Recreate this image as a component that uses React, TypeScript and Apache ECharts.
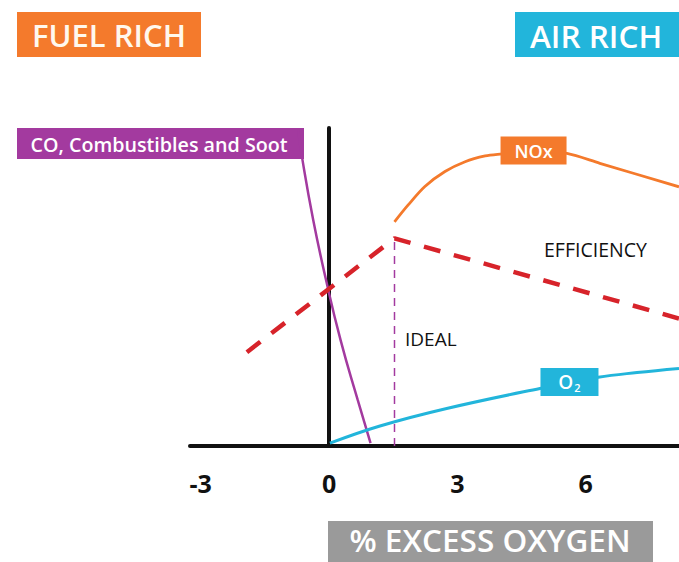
import React, { useEffect, useRef } from "react";
import * as echarts from "echarts";

// % excess oxygen ticks
const xTicks = [-3, 0, 3, 6];

// Curves: [excess O2 %, relative level]
const coSoot = [
  [-0.72, 99.4], [-0.62, 89.9], [-0.37, 71.1], [-0.07, 52.2],
  [0.27, 33.3], [0.67, 14.5], [0.97, 0.9],
];
const nox = [
  [1.53, 70.5], [1.85, 75.8], [2.24, 81.6], [2.71, 86.3], [3.18, 89.4],
  [3.65, 91.2], [4.0, 91.8], [4.79, 92.8], [5.56, 92.0], [6.33, 88.9], [8.18, 81.5],
];
const efficiency = [
  [-1.92, 29.5], [1.53, 65.3], [8.18, 40.1],
];
const oxygen = [
  [0.02, 0.9], [1.19, 6.3], [2.75, 11.8], [4.93, 18.1], [6.29, 21.6], [7.2, 23.1], [8.18, 24.4],
];
const ideal = [
  [1.53, 0], [1.53, 65.3],
];
const noxLabelAt = [4.78, 92.9];
const o2LabelAt = [5.62, 20.1];

const FONT = "'Open Sans', 'Noto Sans', sans-serif";
const ORANGE = "#F47A2C";
const BLUE = "#22B5DB";
const PURPLE = "#A33A9F";
const RED = "#D7232A";
const GRAY = "#9A9A9A";

export default function App() {
  const ref = useRef<HTMLDivElement>(null);
  useEffect(() => {
    if (!ref.current) return;
    const chart = echarts.init(ref.current, null, { renderer: "svg" });
    chart.setOption({
      animation: false,
      backgroundColor: "#ffffff",
      grid: { left: 190, right: 0, top: 128, bottom: 116 },
      xAxis: {
        type: "value",
        min: -3.25,
        max: 8.18,
        axisLine: { show: true, onZero: true, lineStyle: { color: "#111", width: 4 } },
        axisTick: { show: false },
        splitLine: { show: false },
        axisLabel: {
          customValues: xTicks,
          color: "#111",
          fontSize: 25,
          fontWeight: "bold",
          fontFamily: FONT,
          margin: 24,
        },
      },
      yAxis: {
        type: "value",
        min: 0,
        max: 100,
        axisLine: { show: true, onZero: true, lineStyle: { color: "#111", width: 4 } },
        axisTick: { show: false },
        splitLine: { show: false },
        axisLabel: { show: false },
      },
      series: [
        {
          type: "line",
          name: "CO",
          data: coSoot,
          smooth: 0.5,
          symbol: "none",
          lineStyle: { color: PURPLE, width: 2.5 },
          z: 3,
        },
        {
          type: "line",
          name: "Ideal",
          data: ideal,
          symbol: "none",
          lineStyle: { color: PURPLE, width: 1.5, type: [8, 6] },
          z: 2,
        },
        {
          type: "line",
          name: "Efficiency",
          data: efficiency,
          symbol: "none",
          lineStyle: { color: RED, width: 4.5, type: [17, 14] },
          z: 4,
        },
        {
          type: "line",
          name: "NOx",
          data: nox,
          smooth: 0.3,
          symbol: "none",
          lineStyle: { color: ORANGE, width: 2.8 },
          z: 3,
          markPoint: {
            symbol: "rect",
            symbolSize: [66, 28],
            itemStyle: { color: ORANGE },
            label: {
              show: true,
              formatter: "NOx",
              color: "#fff",
              fontSize: 18,
              fontWeight: 600,
              fontFamily: FONT,
            },
            data: [{ coord: noxLabelAt }],
          },
        },
        {
          type: "line",
          name: "O2",
          data: oxygen,
          smooth: 0.4,
          symbol: "none",
          lineStyle: { color: BLUE, width: 3 },
          z: 3,
          markPoint: {
            symbol: "rect",
            symbolSize: [58, 28],
            itemStyle: { color: BLUE },
            label: {
              show: true,
              formatter: "O{s|2}",
              color: "#fff",
              fontSize: 19,
              fontWeight: 600,
              fontFamily: FONT,
              rich: {
                s: { fontSize: 11, fontWeight: 600, color: "#fff", fontFamily: FONT, padding: [10, 0, 0, 1] },
              },
            },
            data: [{ coord: o2LabelAt }],
          },
        },
      ],
      graphic: [
        {
          type: "group",
          left: 17,
          top: 12,
          children: [
            { type: "rect", shape: { x: 0, y: 0, width: 184, height: 45 }, style: { fill: ORANGE } },
            {
              type: "text",
              x: 92,
              y: 23,
              style: {
                text: "FUEL RICH",
                fill: "#FFF8EE",
                font: `600 31px ${FONT}`,
                align: "center",
                verticalAlign: "middle",
              },
            },
          ],
        },
        {
          type: "group",
          left: 515,
          top: 12,
          children: [
            { type: "rect", shape: { x: 0, y: 0, width: 164, height: 45 }, style: { fill: BLUE } },
            {
              type: "text",
              x: 81,
              y: 23,
              style: {
                text: "AIR RICH",
                fill: "#FFFFFF",
                font: `600 31.5px ${FONT}`,
                align: "center",
                verticalAlign: "middle",
              },
            },
          ],
        },
        {
          type: "group",
          left: 17,
          top: 128,
          z: 10,
          children: [
            { type: "rect", shape: { x: 0, y: 0, width: 287, height: 31 }, style: { fill: PURPLE } },
            {
              type: "text",
              x: 142,
              y: 16,
              style: {
                text: "CO, Combustibles and Soot",
                fill: "#FFFFFF",
                font: `600 19.7px ${FONT}`,
                align: "center",
                verticalAlign: "middle",
              },
            },
          ],
        },
        {
          type: "group",
          left: 328,
          top: 521,
          children: [
            { type: "rect", shape: { x: 0, y: 0, width: 325, height: 41 }, style: { fill: GRAY } },
            {
              type: "text",
              x: 162,
              y: 18,
              style: {
                text: "% EXCESS OXYGEN",
                fill: "#FFFFFF",
                font: `600 31.5px ${FONT}`,
                lineHeight: 32,
                align: "center",
                verticalAlign: "middle",
              },
            },
          ],
        },
        {
          type: "text",
          left: 544,
          top: 239,
          style: { text: "EFFICIENCY", fill: "#111", font: `400 19.5px ${FONT}` },
        },
        {
          type: "text",
          left: 405,
          top: 329,
          style: { text: "IDEAL", fill: "#111", font: `400 19px ${FONT}` },
        },
      ],
    });
    return () => chart.dispose();
  }, []);
  return (
    <div
      ref={ref}
      style={{ position: "fixed", left: 0, top: 0, width: 679, height: 562 }}
    />
  );
}
